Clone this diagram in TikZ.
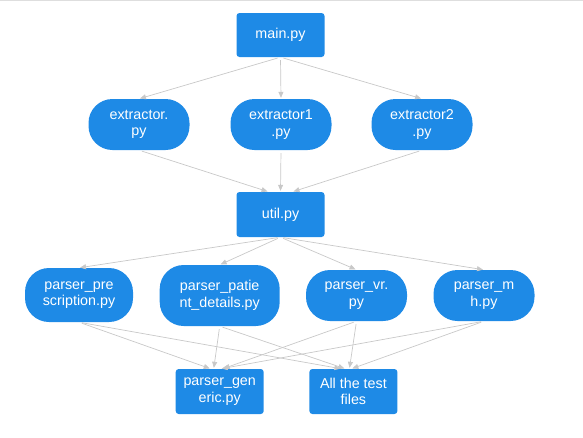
\documentclass[tikz,border=0pt]{standalone}
\usepackage{fontspec}
\setmainfont{Liberation Sans}
\usepackage{xcolor}
\usetikzlibrary{arrows.meta}
\definecolor{fileblue}{HTML}{1E8AE6}
\definecolor{linkgray}{HTML}{C8C8C8}

\begin{document}
\begin{tikzpicture}[x=1pt, y=-1pt,
	file/.style={rectangle, fill=fileblue, text=white, align=center, inner sep=0pt, font=\fontsize{14.3}{16.5}\selectfont},
	boxfile/.style={file, rounded corners=3pt, minimum width=88pt, minimum height=44pt},
	pillfile/.style={file, rounded corners=24pt, minimum width=101pt, minimum height=51pt},
	link/.style={draw=linkgray, line width=0.7pt, -{Triangle[length=6pt,width=5pt]}, shorten <=3pt, shorten >=1pt}]
			\useasboundingbox (0,0) rectangle (583,437);
			\draw[linkgray!60, line width=1pt] (0,0.5) -- (583,0.5);
			\node[name=main, boxfile] at (280.5,35) {main.py};
			\node[name=ex, pillfile] at (139,124.5) {extractor.\\py};
			\node[name=exa, pillfile] at (281,124.5) {extractor1\\.py};
			\node[name=exb, pillfile] at (422,124.5) {extractor2\\.py};
			\node[name=util, boxfile, minimum height=45pt] at (280.5,214.5) {util.py};
			\node[name=pres, pillfile, minimum width=108pt, minimum height=54pt] at (79,295) {parser\_pre\\scription.py};
			\node[name=pat, pillfile, minimum width=120pt, minimum height=61pt] at (219.7,295.5) {parser\_patie\\nt\_details.py};
			\node[name=vr, pillfile] at (356.5,295.5) {parser\_vr.\\py};
			\node[name=mh, pillfile] at (484,295.5) {parser\_m\\h.py};
			\node[name=gen, boxfile, minimum height=45pt] at (219.7,391.5) {parser\_gen\\eric.py};
			\node[name=test, boxfile, minimum height=45pt] at (353.4,391.5) {All the test\\files};
			% main -> extractors -> util
			\foreach \f/\dx in {ex/-12, exa/0, exb/12} {
				\draw[link] (main.south) -- (\f.north);
				\draw[link] (\f.south) -- ([xshift=\dx pt]util.north);
			}
			% util -> parsers -> generic, tests
			\foreach \p/\dg/\dt in {pres/-9/-12, pat/-6/-8, vr/3/-4, mh/1/-2} {
				\draw[link] (util.south) -- (\p.north);
				\draw[link] (\p.south) -- ([xshift=\dg pt]gen.north);
				\draw[link] (\p.south) -- ([xshift=\dt pt]test.north);
			}
		\end{tikzpicture}
\end{document}
